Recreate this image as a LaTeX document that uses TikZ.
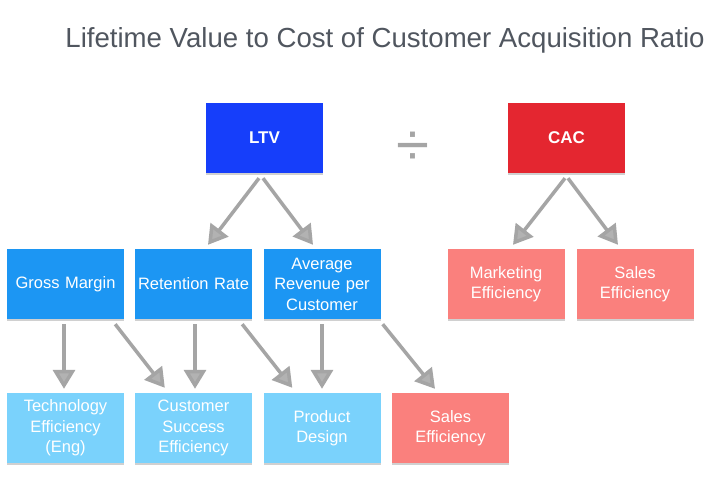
\documentclass[tikz,border=0pt]{standalone}
\usepackage{fontspec}
\setmainfont{Liberation Sans}
\usepackage{tikz}
\usetikzlibrary{shapes}
\usetikzlibrary{arrows.meta}
\usetikzlibrary{positioning}
\usetikzlibrary{calc}
\usetikzlibrary{shadows}

\definecolor{ltvblue}{RGB}{22,62,250}
\definecolor{cacred}{RGB}{228,38,48}
\definecolor{midblue}{RGB}{28,150,243}
\definecolor{lightblue}{RGB}{122,210,252}
\definecolor{salmon}{RGB}{250,128,125}
\definecolor{titlegray}{RGB}{80,86,95}
\definecolor{arrowgray}{RGB}{165,165,165}

\tikzset{
	box/.style={rectangle, minimum width=117pt, minimum height=70pt, inner sep=0pt,
		text width=117pt, align=center, text=white,
		font=\fontsize{16.5}{20.5}\selectfont,
		drop shadow={shadow xshift=0pt, shadow yshift=-2pt, opacity=0.3, fill=black!60}},
	topbox/.style={box, font=\fontsize{17}{20.5}\selectfont\bfseries},
	arr/.style={draw=arrowgray, line width=3.5pt,
		-{Triangle[width=22pt, length=19pt, fill=arrowgray!85]}}
}

\begin{document}
\begin{tikzpicture}[x=1pt, y=-1pt]
	\useasboundingbox[fill=white] (0,0) rectangle (706,479);
	\node[anchor=base, text=titlegray, font=\fontsize{27.6}{32}\selectfont] (title) at (385, 47) {Lifetime Value to Cost of Customer Acquisition Ratio};

	% top row
	\node[topbox, fill=ltvblue] (ltv) at (264.5, 138) {LTV};
	\node[text=arrowgray, font=\fontsize{60}{60}\selectfont] (div) at (413, 149) {÷};
	\node[topbox, fill=cacred] (cac) at (566.5, 138) {CAC};

	% second row
	\node[box, fill=midblue] (gm) at (65.5, 284) {Gross Margin};
	\node[box, fill=midblue] (ret) at (193.5, 284) {Retention Rate};
	\node[box, fill=midblue] (arpc) at (322, 284) {Average\\Revenue per\\Customer};
	\node[box, fill=salmon] (mkt) at (506, 284) {Marketing\\Efficiency};
	\node[box, fill=salmon] (sales) at (635, 284) {Sales\\Efficiency};

	% third row
	\node[box, fill=lightblue] (tech) at (65.5, 428) {Technology\\Efficiency\\(Eng)};
	\node[box, fill=lightblue] (cse) at (193.5, 428) {Customer\\Success\\Efficiency};
	\node[box, fill=lightblue] (pd) at (322, 428) {Product\\Design};
	\node[box, fill=salmon] (salesb) at (450.5, 428) {Sales\\Efficiency};

	\draw[arr] ([xshift=-5.5pt, yshift=-5pt]ltv.south) -- ([xshift=14.5pt, yshift=4pt]ret.north);
	\draw[arr] ([xshift=-1.5pt, yshift=-5pt]ltv.south) -- ([xshift=-9pt, yshift=4pt]arpc.north);
	\draw[arr] ([xshift=-1.5pt, yshift=-5pt]cac.south) -- ([xshift=7pt, yshift=4pt]mkt.north);
	\draw[arr] ([xshift=1.5pt, yshift=-5pt]cac.south) -- ([xshift=-17pt, yshift=4pt]sales.north);

	\draw[arr] ([xshift=-1.5pt, yshift=-5pt]gm.south) -- ([xshift=-1.5pt, yshift=4pt]tech.north);
	\draw[arr] ([xshift=-9pt, yshift=-5pt]gm.south east) -- ([xshift=30pt, yshift=5pt]cse.north west);
	\draw[arr] ([xshift=1.5pt, yshift=-5pt]ret.south) -- ([xshift=1.5pt, yshift=4pt]cse.north);
	\draw[arr] ([xshift=-10pt, yshift=-5pt]ret.south east) -- ([xshift=29pt, yshift=5pt]pd.north west);
	\draw[arr] ([yshift=-5pt]arpc.south) -- ([yshift=4pt]pd.north);
	\draw[arr] ([xshift=2pt, yshift=-5pt]arpc.south east) -- ([xshift=-15.5pt, yshift=4pt]salesb.north);
\end{tikzpicture}
\end{document}
